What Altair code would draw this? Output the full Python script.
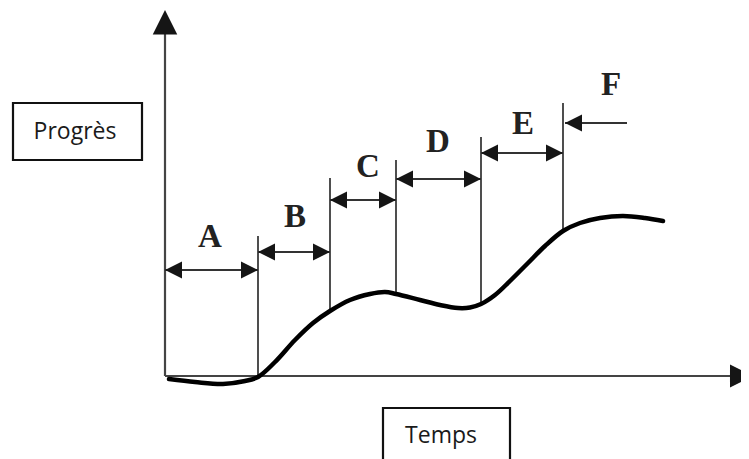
import altair as alt
import pandas as pd

# ---- data (figure units: x = time position, y = vertical position, top-down) ----
curve_t = [169, 195, 223, 245, 258, 275, 295, 313, 330, 350, 370, 385, 396,
           420, 440, 458, 470, 481, 495, 510, 528, 545, 563, 580, 600, 623, 645, 663]
curve_y = [379, 382, 384, 381, 377, 362, 340, 323, 311, 300, 294, 292, 294,
           300, 305, 308, 307.5, 304, 295, 281, 263, 246, 231, 223, 218, 216, 218, 221]

# phase boundaries (vertical lines): x, top, bottom (on curve)
bound_x = [258, 330, 396, 481, 563]
bound_top = [236, 178, 160, 137, 103]
bound_bot = [377, 311, 294, 304, 231]

# double arrows for phases A..E
phase_labels = ["A", "B", "C", "D", "E"]
arrow_from = [165, 258, 330, 396, 481]
arrow_to = [258, 330, 396, 481, 563]
arrow_y = [270, 252, 200, 179, 153]
label_x = [210, 295, 368, 438, 523]
label_base = [247, 227, 177, 152, 134]

# phase F: single arrow pointing left
f_label = ["F"]
f_tip = [565]
f_tail = [627]
f_y = [123]
f_label_x = [611]
f_label_base = [95]

# axes
axis_origin = (165, 376)
yaxis_top = 10
xaxis_end = 753

# boxes
box_text = ["Progrès", "Temps"]
box_x1 = [13, 383]
box_x2 = [142, 510]
box_y1 = [103, 408]
box_y2 = [160, 480]
box_tx = [75, 441]
box_ty = [139, 443]

W, H = 733, 451
xs = alt.Scale(domain=[8, 8 + W], nice=False, zero=False)
ys = alt.Scale(domain=[8, 8 + H], nice=False, zero=False, reverse=True)


def X(f="x"):
    return alt.X(f"{f}:Q", scale=xs, axis=None)


def Y(f="y"):
    return alt.Y(f"{f}:Q", scale=ys, axis=None)


LEFT = "M0,0L2,-1L2,1Z"
RIGHT = "M0,0L-2,-1L-2,1Z"
UP = "M0,0L-1,2L1,2Z"
DARK = "#151515"

layers = []

# axes lines
ax = pd.DataFrame({"x": [axis_origin[0], axis_origin[0]],
                   "x2": [axis_origin[0], 733],
                   "y": [34, axis_origin[1]],
                   "y2": [axis_origin[1], axis_origin[1]]})
layers.append(alt.Chart(ax).mark_rule(color="#444", strokeWidth=2.2).encode(
    x=X(), x2="x2:Q", y=Y(), y2="y2:Q"))

# axis arrowheads
layers.append(alt.Chart(pd.DataFrame({"x": [axis_origin[0]], "y": [yaxis_top]}))
              .mark_point(shape=UP, filled=True, size=600, color=DARK, opacity=1)
              .encode(x=X(), y=Y()))
layers.append(alt.Chart(pd.DataFrame({"x": [xaxis_end], "y": [axis_origin[1]]}))
              .mark_point(shape=RIGHT, filled=True, size=530, color=DARK, opacity=1)
              .encode(x=X(), y=Y()))

# vertical phase boundaries
bd = pd.DataFrame({"x": bound_x, "y": bound_top, "y2": bound_bot})
layers.append(alt.Chart(bd).mark_rule(color="#222", strokeWidth=1.6).encode(
    x=X(), y=Y(), y2="y2:Q"))

# curve
cv = pd.DataFrame({"x": curve_t, "y": curve_y})
layers.append(alt.Chart(cv).mark_line(color="#000", strokeWidth=4.5, interpolate="catmull-rom",
                                      strokeCap="round").encode(x=X(), y=Y()))

# double arrows
ar = pd.DataFrame({"x": arrow_from, "x2": arrow_to, "y": arrow_y, "lab": phase_labels,
                   "lx": label_x, "ly": label_base})
layers.append(alt.Chart(ar).mark_rule(color="#333", strokeWidth=2).encode(
    x=X(), x2="x2:Q", y=Y()))
layers.append(alt.Chart(ar).mark_point(shape=LEFT, filled=True, size=289, color=DARK, opacity=1)
              .encode(x=X("x"), y=Y()))
layers.append(alt.Chart(ar).mark_point(shape=RIGHT, filled=True, size=289, color=DARK, opacity=1)
              .encode(x=X("x2"), y=Y()))
layers.append(alt.Chart(ar).mark_text(font="Liberation Serif", fontWeight="bold", fontSize=33,
                                      baseline="alphabetic", align="center", color="#222")
              .encode(x=X("lx"), y=Y("ly"), text="lab:N"))

# F arrow
fd = pd.DataFrame({"x": f_tip, "x2": f_tail, "y": f_y, "lab": f_label,
                   "lx": f_label_x, "ly": f_label_base})
layers.append(alt.Chart(fd).mark_rule(color="#333", strokeWidth=2).encode(
    x=X(), x2="x2:Q", y=Y()))
layers.append(alt.Chart(fd).mark_point(shape=LEFT, filled=True, size=289, color=DARK, opacity=1)
              .encode(x=X(), y=Y()))
layers.append(alt.Chart(fd).mark_text(font="Liberation Serif", fontWeight="bold", fontSize=33,
                                      baseline="alphabetic", align="center", color="#222")
              .encode(x=X("lx"), y=Y("ly"), text="lab:N"))

# boxes with labels
bx = pd.DataFrame({"x": box_x1, "x2": box_x2, "y": box_y1, "y2": box_y2,
                   "t": box_text, "tx": box_tx, "ty": box_ty})
layers.append(alt.Chart(bx).mark_rect(fill="white", stroke="#111", strokeWidth=2.2, clip=True)
              .encode(x=X(), x2="x2:Q", y=Y(), y2="y2:Q"))
layers.append(alt.Chart(bx).mark_text(font="Open Sans", fontSize=23, baseline="alphabetic",
                                      align="center", color="#1a1a1a")
              .encode(x=X("tx"), y=Y("ty"), text="t:N"))

chart = alt.layer(*layers).properties(
    width=W, height=H, padding=0, autosize=alt.AutoSizeParams(type="none"),
    background="white"
).configure_view(stroke=None)

chart.save("out.html", embed_options={"renderer": "svg", "actions": False})
